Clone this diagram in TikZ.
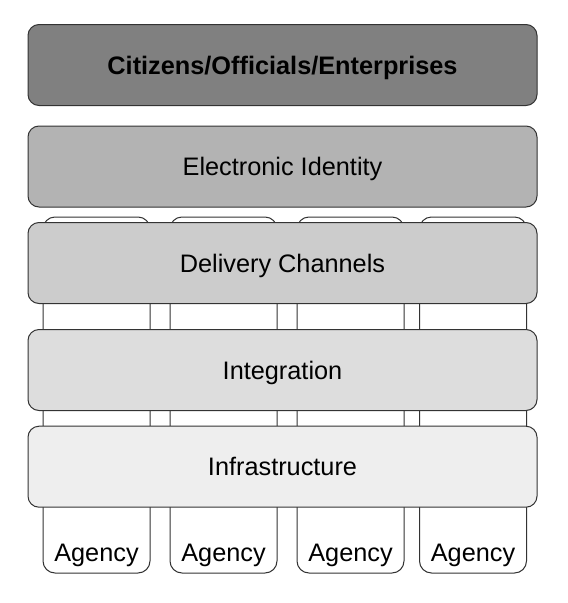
\documentclass[tikz,border=0pt]{standalone}
\usepackage{fontspec}
\setmainfont{Liberation Sans}
\usetikzlibrary{positioning}
\definecolor{lcit}{HTML}{808080}
\definecolor{leid}{HTML}{B3B3B3}
\definecolor{ldel}{HTML}{CCCCCC}
\definecolor{lint}{HTML}{DDDDDD}
\definecolor{linf}{HTML}{EEEEEE}
\definecolor{edge}{HTML}{333333}
\tikzset{
  layer/.style={draw=edge,line width=1pt,rounded corners=11pt,minimum width=509pt,minimum height=81pt,inner sep=0pt,text height=18.1pt,text depth=0pt,font=\fontsize{25.3}{30}\selectfont},
  column/.style={draw=edge,fill=white,line width=1pt,rounded corners=12pt,minimum width=107pt,minimum height=356pt,inner sep=0pt},
  agencylbl/.style={inner sep=0pt,text height=18.1pt,text depth=0pt,font=\fontsize{25.3}{30}\selectfont},
}
\begin{document}
\begin{tikzpicture}[x=1pt,y=-1pt]
  \useasboundingbox (0,0) rectangle (568,603);
  % agency columns behind the layers
  \foreach \x/\n in {96.5/1,223.5/2,350.5/3,473/4} {
    \node[column] (col\n) at (\x,395) {};
    \node[agencylbl] (lbl\n) at ([yshift=21pt]col\n.south) {Agency};
  }
  % layers
  \node[layer,fill=lcit,font=\fontsize{25.3}{30}\selectfont\bfseries] (citizens) at (282.5,65) {Citizens/Officials/Enterprises};
  \node[layer,fill=leid] (eid) at (282.5,166.5) {Electronic Identity};
  \node[layer,fill=ldel] (delivery) at (282.5,263) {Delivery Channels};
  \node[layer,fill=lint] (integration) at (282.5,370) {Integration};
  \node[layer,fill=linf] (infra) at (282.5,466.7) {Infrastructure};
\end{tikzpicture}
\end{document}
